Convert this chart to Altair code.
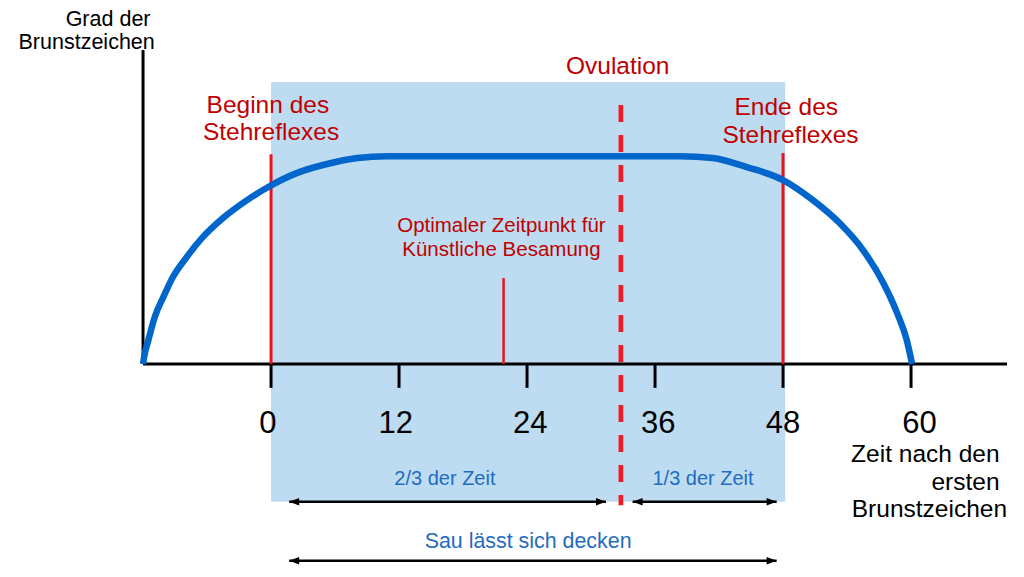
import altair as alt
import pandas as pd

# ---------------- data ----------------
# Curve: degree of heat signs over hours after first heat signs
curve_hours = [-12, -11.9, -11.5, -10.9, -10.1, -9.2, -7.9, -6.4, -4.5, -2.25, -0.1,
               2.4, 5.25, 8.1, 10.9, 38.3, 41.4, 44.6, 48, 50.8, 53.3, 55.5, 57.4,
               58.7, 59.6, 60.1]
curve_degree = [0, 2.2, 7.6, 15.0, 21.3, 27.7, 34.1, 40.4, 46.5, 52.2, 56.7,
                60.8, 63.7, 65.6, 66.2, 66.2, 65.6, 62.7, 58.6, 52.2, 44.9, 36.3, 25.8,
                16.2, 7.6, 0]

tick_values = [0, 12, 24, 36, 48, 60]
tick_labels = ["0", "12", "24", "36", "48", "60"]
tick_label_x = [-0.3, 11.7, 24.3, 36.3, 48, 60.8]

stand_start = 0        # Beginn des Stehreflexes
stand_end = 48         # Ende des Stehreflexes
ovulation_hour = 32.8  # Ovulation
ai_hour = 21.8         # Optimaler Zeitpunkt für KB

# annotation texts
red_texts = ["Beginn des", "Stehreflexes", "Ovulation", "Ende des", "Stehreflexes"]
red_text_x = [-0.3, 0, 32.5, 48.3, 48.7]
red_text_y = [82.2, 73.6, 94.6, 81.5, 72.6]

ai_texts = ["Optimaler Zeitpunkt für", "Künstliche Besamung"]
ai_text_x = [21.6, 21.6]
ai_text_y = [43.9, 36.3]

blue_texts = ["2/3 der Zeit", "1/3 der Zeit", "Sau lässt sich decken"]
blue_text_x = [16.3, 40.5, 24.1]
blue_text_y = [-36.6, -36.6, -56.7]

ylabel_lines = ["Grad der", "Brunstzeichen"]
ylabel_x = [-11.3, -10.9]
ylabel_y = [109.5, 102.4]

xlabel_lines = ["Zeit nach den", "ersten", "Brunstzeichen"]
xlabel_x = [68.3, 68.3, 69.0]
xlabel_y = [-29.0, -37.9, -46.5]

# arrows (left tip, right tip, level)
arrow_left = [1.7, 33.9, 1.7]
arrow_right = [31.4, 47.4, 47.4]
arrow_level = [-43.9, -43.9, -62.7]

# ---------------- chart ----------------
FONT = "Liberation Sans"
XS = alt.Scale(domain=[-24.66, 69.84], nice=False, zero=False)
YS = alt.Scale(domain=[-65.3, 113.4], nice=False, zero=False)


def X(f="x"):
    return alt.X(f"{f}:Q", scale=XS, axis=None)


def Y(f="y"):
    return alt.Y(f"{f}:Q", scale=YS, axis=None)


curve_df = pd.DataFrame({"x": curve_hours, "y": curve_degree})
rect_df = pd.DataFrame({"x": [stand_start], "x2": [stand_end + 0.2], "y": [-43.9], "y2": [89.8]})

rect = alt.Chart(rect_df).mark_rect(color="#BDDCF2").encode(
    x=X(), x2="x2:Q", y=Y(), y2="y2:Q")

yaxis = alt.Chart(pd.DataFrame({"x": [-12], "y": [0], "y2": [100]})).mark_rule(
    color="black", strokeWidth=3).encode(x=X(), y=Y(), y2="y2:Q")
xaxis = alt.Chart(pd.DataFrame({"x": [-12], "x2": [69.0], "y": [0]})).mark_rule(
    color="black", strokeWidth=3).encode(x=X(), x2="x2:Q", y=Y())

ticks_df = pd.DataFrame({"x": tick_values, "y": [0] * len(tick_values),
                         "y2": [-7.6] * len(tick_values)})
ticks = alt.Chart(ticks_df).mark_rule(color="black", strokeWidth=3).encode(
    x=X(), y=Y(), y2="y2:Q")
tick_lab_df = pd.DataFrame({"x": tick_label_x, "label": tick_labels,
                            "y": [-19.2] * len(tick_labels)})
tick_text = alt.Chart(tick_lab_df).mark_text(
    font=FONT, fontSize=31, color="black", baseline="middle", align="center").encode(
    x=X(), y=Y(), text="label:N")

curve = alt.Chart(curve_df).mark_line(
    color="#0066CC", strokeWidth=6.5, interpolate="monotone").encode(x=X(), y=Y())

red_rules_df = pd.DataFrame({"x": [stand_start, stand_end], "y": [0, 0], "y2": [66.8, 67.2]})
red_rules = alt.Chart(red_rules_df).mark_rule(color="#E8131B", strokeWidth=3).encode(
    x=X(), y=Y(), y2="y2:Q")

ai_rule = alt.Chart(pd.DataFrame({"x": [ai_hour], "y": [0], "y2": [27.4]})).mark_rule(
    color="#E8131B", strokeWidth=2.5).encode(x=X(), y=Y(), y2="y2:Q")

ovu_rule = alt.Chart(pd.DataFrame({"x": [ovulation_hour], "y": [82.5], "y2": [-45.0]})).mark_rule(
    color="#EE1C25", strokeWidth=4.7, strokeDash=[17, 13]).encode(x=X(), y=Y(), y2="y2:Q")

arrows_df = pd.DataFrame({"x": arrow_left, "x2": arrow_right, "y": arrow_level})
arrow_lines = alt.Chart(arrows_df).mark_rule(color="black", strokeWidth=2.5).encode(
    x=X(), x2="x2:Q", y=Y())
arrow_lh = alt.Chart(arrows_df).mark_point(
    shape="M0,0L2,-0.75L2,0.75Z", filled=True, color="black", opacity=1, size=100).encode(
    x=X(), y=Y())
arrow_rh = alt.Chart(arrows_df).mark_point(
    shape="M0,0L-2,-0.75L-2,0.75Z", filled=True, color="black", opacity=1, size=100).encode(
    x=X("x2"), y=Y())

red_df = pd.DataFrame({"t": red_texts, "x": red_text_x, "y": red_text_y})
red_txt = alt.Chart(red_df).mark_text(
    font=FONT, fontSize=24.5, color="#C00000", align="center", baseline="middle").encode(
    x=X(), y=Y(), text="t:N")

ai_df = pd.DataFrame({"t": ai_texts, "x": ai_text_x, "y": ai_text_y})
ai_txt = alt.Chart(ai_df).mark_text(
    font=FONT, fontSize=20.5, color="#C00000", align="center", baseline="middle").encode(
    x=X(), y=Y(), text="t:N")

blue_df = pd.DataFrame({"t": blue_texts, "x": blue_text_x, "y": blue_text_y,
                        "s": [20, 20, 21.4]})
blue_txt = alt.Chart(blue_df).mark_text(
    font=FONT, color="#1F6CC0", align="center", baseline="middle").encode(
    x=X(), y=Y(), text="t:N", size=alt.Size("s:Q", scale=None, legend=None))

ylab_df = pd.DataFrame({"t": ylabel_lines, "x": ylabel_x, "y": ylabel_y})
ylab = alt.Chart(ylab_df).mark_text(
    font=FONT, fontSize=21.5, color="black", align="right", baseline="middle").encode(
    x=X(), y=Y(), text="t:N")

xlab_df = pd.DataFrame({"t": xlabel_lines, "x": xlabel_x, "y": xlabel_y})
xlab = alt.Chart(xlab_df).mark_text(
    font=FONT, fontSize=24.5, color="black", align="right", baseline="middle").encode(
    x=X(), y=Y(), text="t:N")

chart = alt.layer(
    rect, yaxis, xaxis, ticks, tick_text, red_rules, ai_rule, curve, ovu_rule,
    arrow_lines, arrow_lh, arrow_rh, red_txt, ai_txt, blue_txt, ylab, xlab
).properties(
    width=1008, height=561, padding=0,
    autosize=alt.AutoSizeParams(type="none")
).configure_view(strokeWidth=0)

chart.save("out.html", embed_options={"renderer": "svg", "actions": False})
